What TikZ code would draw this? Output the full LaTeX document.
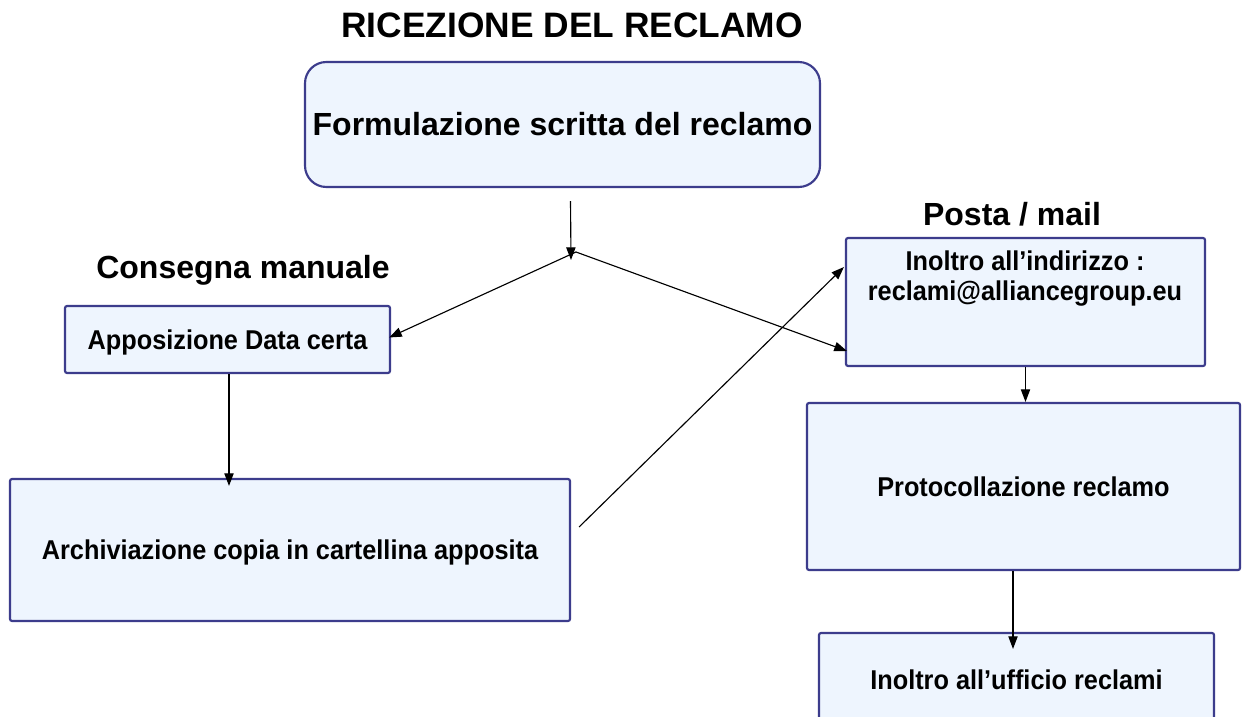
\documentclass[tikz,border=0pt]{standalone}
\usepackage{fontspec}
\setmainfont{Liberation Sans}
\newfontfamily\condfont[FakeStretch=0.93]{Liberation Sans}
\usetikzlibrary{arrows.meta,calc}
\definecolor{boxfill}{RGB}{238,245,254}
\definecolor{boxdraw}{RGB}{60,60,140}
\begin{document}
\begin{tikzpicture}[x=0.75pt,y=-0.75pt,
  box/.style={draw=boxdraw, fill=boxfill, line width=1.6pt, rounded corners=1.5pt,
    inner sep=0pt, text depth=0pt, text height=14.6pt,
    font=\condfont\bfseries\fontsize{20.4}{24}\selectfont},
  head/.style={font=\bfseries\fontsize{24}{28}\selectfont, inner sep=0pt},
  arr/.style={-{Triangle[length=9.5pt,width=7pt]}, line width=0.85pt}]
\useasboundingbox (0,0) rectangle (1242,717);
\fill[white] (0,0) rectangle (1242,717);

\node[head, font=\bfseries\fontsize{26.5}{30}\selectfont, anchor=base] (title) at (572,38) {RICEZIONE DEL RECLAMO};
\node[box, rounded corners=16pt, minimum width=386.25pt, minimum height=93.75pt,
  font=\bfseries\fontsize{24}{28}\selectfont, text height=17.2pt] (top) at (562.5,124.5) {Formulazione scritta del reclamo};
\node[head, anchor=base] (cons) at (243,278) {Consegna manuale};
\node[head, anchor=base] (posta) at (1012,225) {Posta / mail};

\node[box, minimum width=243.75pt, minimum height=50.25pt] (app) at (227.5,339.5) {Apposizione Data certa};
\node[box, minimum width=420pt, minimum height=106.5pt] (arch) at (290,550) {Archiviazione copia in cartellina apposita};
\node[box, minimum width=269.25pt, minimum height=96pt] (ind) at (1025.5,302) {};
\node[anchor=north, align=center, inner sep=0pt,
  font=\condfont\bfseries\fontsize{20.4}{22.5}\selectfont] (indtxt) at (1025,251) {Inoltro all’indirizzo :\\reclami@alliancegroup.eu};
\node[box, minimum width=324.75pt, minimum height=125.25pt] (prot) at (1023.5,486.5) {Protocollazione reclamo};
\node[box, minimum width=296.25pt, minimum height=70.5pt] (uff) at (1016.5,680) {Inoltro all’ufficio reclami};

\coordinate (J) at (571,260);
\coordinate (Jb) at (576,252);
\draw[arr] ($(top.south)+(8,13)$) -- (J);
\draw[arr] (Jb) -- ($(app.east)+(-2,-2)$);
\draw[arr] (Jb) -- ($(ind.west)+(2,49)$);
\draw[arr] ($(app.south)+(1.5,0)$) -- ($(arch.north -| app.south)+(1.5,8)$);
\draw[arr] ($(arch.east)+(8,-23)$) -- ($(ind.west)+(-1,-35)$);
\draw[arr] (ind.south) -- (ind.south |- prot.north);
\draw[arr] ($(prot.south)+(-10.5,0)$) -- ($(uff.north -| prot.south)+(-10.5,17)$);
\end{tikzpicture}
\end{document}
